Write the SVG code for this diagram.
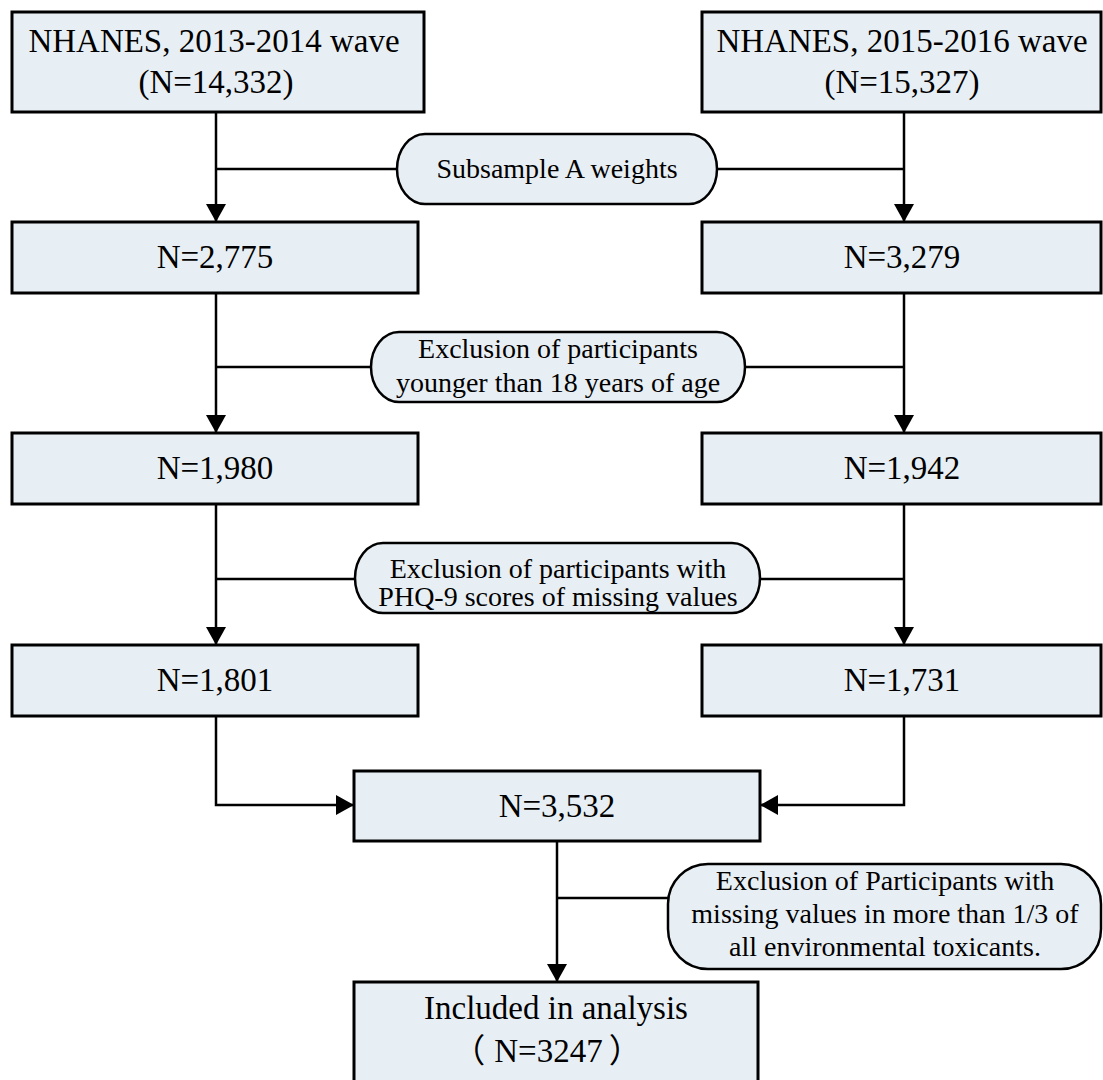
<svg xmlns="http://www.w3.org/2000/svg" width="1103" height="1080" viewBox="0 0 1103 1080">
<style>
.box{fill:#e8eff4;stroke:#000;stroke-width:3}
.pill{fill:#e8eff4;stroke:#000;stroke-width:2.5}
.bt{font-family:"Liberation Serif","Noto Sans CJK SC",serif;font-size:33px;fill:#000;text-anchor:middle}
.pt{font-family:"Liberation Serif",serif;font-size:28px;fill:#000;text-anchor:middle}
.ln{fill:none;stroke:#000;stroke-width:2.5}
</style>
<defs>
<marker id="arr" markerWidth="18" markerHeight="20" refX="18" refY="10" orient="auto" markerUnits="userSpaceOnUse">
<path d="M0,0 L18,10 L0,20 Z" fill="#000"/>
</marker>
</defs>
<rect width="1103" height="1080" fill="#fff"/>
<g id="connectors">
<path class="ln" d="M216,112 V222" marker-end="url(#arr)"/>
<path class="ln" d="M216,169 H397"/>
<path class="ln" d="M904,112 V222" marker-end="url(#arr)"/>
<path class="ln" d="M717,169 H904"/>
<path class="ln" d="M216,293 V433" marker-end="url(#arr)"/>
<path class="ln" d="M216,367 H371"/>
<path class="ln" d="M904,293 V433" marker-end="url(#arr)"/>
<path class="ln" d="M745,367 H904"/>
<path class="ln" d="M216,504 V645" marker-end="url(#arr)"/>
<path class="ln" d="M216,579 H355"/>
<path class="ln" d="M904,504 V645" marker-end="url(#arr)"/>
<path class="ln" d="M760,579 H904"/>
<path class="ln" d="M216,716 V805 H354" marker-end="url(#arr)"/>
<path class="ln" d="M904,716 V805 H760" marker-end="url(#arr)"/>
<path class="ln" d="M557,841 V982" marker-end="url(#arr)"/>
<path class="ln" d="M557,898 H668"/>
</g>
<g id="n1"><rect class="box" x="12" y="12" width="412" height="100"/><text class="bt" x="214" y="52">NHANES, 2013-2014 wave</text><text class="bt" x="216" y="93">(N=14,332)</text></g>
<g id="n2"><rect class="box" x="702" y="12" width="399" height="100"/><text class="bt" x="902" y="52">NHANES, 2015-2016 wave</text><text class="bt" x="902" y="93">(N=15,327)</text></g>
<g id="p1"><rect class="pill" x="397" y="134" width="320" height="70" rx="28" ry="35"/><text class="pt" x="557" y="178">Subsample A weights</text></g>
<g id="n3"><rect class="box" x="12" y="222" width="406" height="71"/><text class="bt" x="215" y="268">N=2,775</text></g>
<g id="n4"><rect class="box" x="702" y="222" width="399" height="71"/><text class="bt" x="902" y="268">N=3,279</text></g>
<g id="p2"><rect class="pill" x="371" y="332" width="374" height="70" rx="28" ry="35"/><text class="pt" x="558" y="358">Exclusion of participants</text><text class="pt" x="558" y="392">younger than 18 years of age</text></g>
<g id="n5"><rect class="box" x="12" y="433" width="406" height="71"/><text class="bt" x="215" y="479">N=1,980</text></g>
<g id="n6"><rect class="box" x="702" y="433" width="399" height="71"/><text class="bt" x="902" y="479">N=1,942</text></g>
<g id="p3"><rect class="pill" x="355" y="543" width="405" height="70" rx="28" ry="35"/><text class="pt" x="558" y="578">Exclusion of participants with</text><text class="pt" x="558" y="606">PHQ-9 scores of missing values</text></g>
<g id="n7"><rect class="box" x="12" y="645" width="406" height="71"/><text class="bt" x="215" y="691">N=1,801</text></g>
<g id="n8"><rect class="box" x="702" y="645" width="399" height="71"/><text class="bt" x="902" y="691">N=1,731</text></g>
<g id="n9"><rect class="box" x="354" y="771" width="406" height="70"/><text class="bt" x="557" y="817">N=3,532</text></g>
<g id="p4"><rect class="pill" x="668" y="864" width="433" height="105" rx="40" ry="40"/><text class="pt" x="885" y="890">Exclusion of Participants with</text><text class="pt" x="885" y="923">missing values in more than 1/3 of</text><text class="pt" x="885" y="956">all environmental toxicants.</text></g>
<g id="n10"><rect class="box" x="354" y="982" width="404" height="110"/><text class="bt" x="556" y="1019">Included in analysis</text><text class="bt" x="556" y="1062"><tspan dx="-9">（</tspan><tspan dx="9">N=3247</tspan><tspan dx="6">）</tspan></text></g>
</svg>
